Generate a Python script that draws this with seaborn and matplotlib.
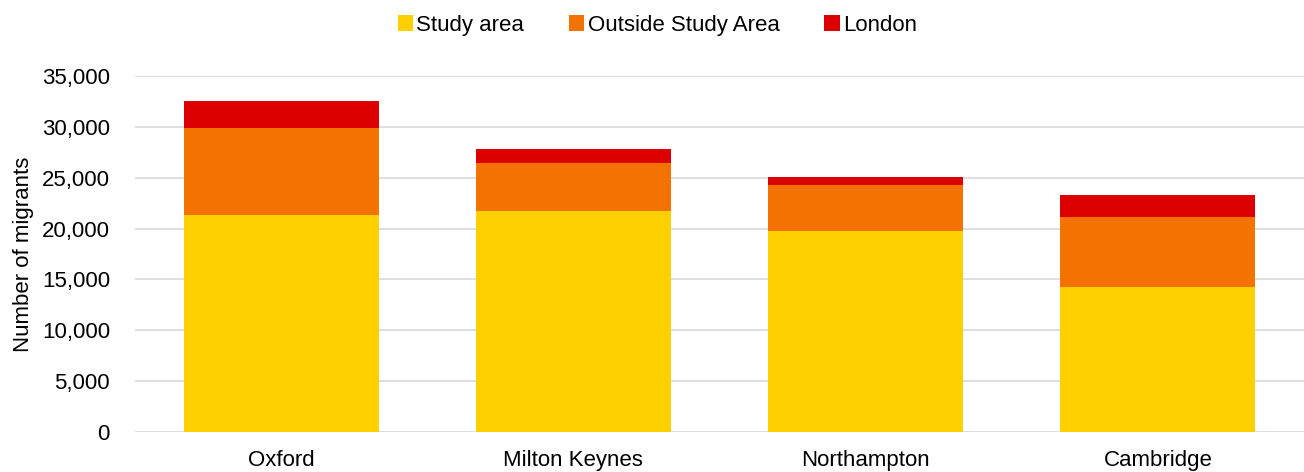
import numpy as np
import pandas as pd
import matplotlib
matplotlib.use("Agg")
import matplotlib.pyplot as plt
from matplotlib.patches import Patch
from matplotlib.ticker import FuncFormatter
import seaborn as sns

# === data ===
cities = ["Oxford", "Milton Keynes", "Northampton", "Cambridge"]
study_area = [21300, 21700, 19800, 14200]
outside_study = [8600, 4700, 4500, 6900]
london = [2600, 1400, 750, 2200]

series_names = ["Study area", "Outside Study Area", "London"]
colors = ["#FFD000", "#F47300", "#DC0000"]

df = pd.DataFrame({
    "City": cities,
    "Study area": study_area,
    "Outside Study Area": outside_study,
    "London": london,
})
# cumulative tops for stacking
df["cum1"] = df["Study area"]
df["cum2"] = df["cum1"] + df["Outside Study Area"]
df["cum3"] = df["cum2"] + df["London"]

sns.set_style("white")
plt.rcParams["font.family"] = ["Liberation Sans", "DejaVu Sans"]
plt.rcParams["text.color"] = "black"
plt.rcParams["axes.labelcolor"] = "black"

fig = plt.figure(figsize=(13.04, 4.72), dpi=100)
ax = fig.add_axes([0.1035, 0.085, 0.8965, 0.754])

# draw tallest first so each layer sits in front
for col, c in zip(["cum3", "cum2", "cum1"], colors[::-1]):
    sns.barplot(data=df, x="City", y=col, color=c, width=0.667,
                saturation=1, linewidth=0, ax=ax, zorder=3)

ax.set_ylim(0, 35000)
ax.set_yticks(np.arange(0, 35001, 5000))
ax.yaxis.set_major_formatter(FuncFormatter(lambda v, p: f"{int(v):,}"))
ax.grid(axis="y", color="#D9D9D9", lw=1.2, zorder=0)
ax.set_axisbelow(True)
for s in ax.spines.values():
    s.set_visible(False)
ax.tick_params(axis="both", length=0, labelsize=16, colors="black")
ax.tick_params(axis="x", pad=13)
ax.tick_params(axis="y", pad=18)
ax.set_xlabel("")
ax.set_ylabel("Number of migrants", fontsize=16, labelpad=6)

handles = [Patch(facecolor=c, edgecolor="none") for c in colors]
fig.legend(handles, series_names, loc="center", bbox_to_anchor=(0.504, 0.947),
           ncol=3, frameon=False, fontsize=16, handlelength=0.7, handleheight=0.7,
           handletextpad=0.15, columnspacing=2.0)

fig.savefig("out.png", dpi=100)
